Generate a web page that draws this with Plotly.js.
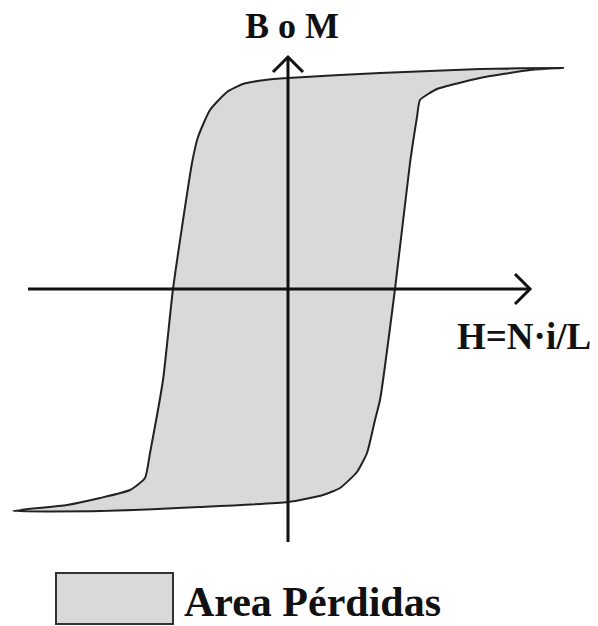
<!DOCTYPE html>
<html>
<head>
<meta charset="utf-8">
<script src="https://cdn.plot.ly/plotly-3.0.1.min.js"></script>
<style>
  html, body { margin: 0; padding: 0; background: #ffffff; }
  #chart { width: 598px; height: 626px; }
</style>
</head>
<body>
<div id="chart"></div>
<script>
// Hysteresis loop: descending branch (from +saturation down to -saturation)
const descH = [2.75, 1.92, 0.92, 0.0, -0.23, -0.45, -0.61, -0.78, -0.90, -0.96, -1.15, -1.25, -1.38, -1.43, -1.58, -1.88, -2.21, -2.75];
const descB = [2.21, 2.20, 2.16, 2.11, 2.09, 2.05, 1.97, 1.79, 1.52, 1.26, 0.0, -0.91, -1.64, -1.89, -2.01, -2.09, -2.16, -2.22];

// Ascending branch (from -saturation back up to +saturation)
const ascH = [-2.75, -1.88, -0.88, 0.0, 0.35, 0.52, 0.69, 0.79, 0.87, 0.92, 1.07, 1.22, 1.29, 1.32, 1.49, 1.59, 1.75, 1.92, 2.42, 2.75];
const ascB = [-2.22, -2.22, -2.18, -2.13, -2.06, -1.99, -1.83, -1.64, -1.31, -1.11, 0.0, 1.26, 1.72, 1.89, 2.00, 2.03, 2.07, 2.11, 2.19, 2.21];

// Axis extents (data units)
const hAxisRange = [-2.60, 2.42];
const bAxisRange = [-2.53, 2.32];

// Labels
const bLabel = 'B o M';
const hLabel = 'H=N·i/L';
const legendLabel = 'Area Pérdidas';

const W = 598, H = 626;
const FILL = '#d9d9d9';
const INK = '#111111';
const SERIF = '"Liberation Serif", "Times New Roman", serif';

// Closed loop: descending branch followed by ascending branch
const loopH = descH.concat(ascH.slice(1));
const loopB = descB.concat(ascB.slice(1));

const loop = {
  type: 'scatter', mode: 'lines',
  x: loopH, y: loopB,
  fill: 'toself', fillcolor: FILL,
  line: { color: '#222222', width: 2, shape: 'spline', smoothing: 0.5 },
  hoverinfo: 'skip', showlegend: false
};

// Axis lines with open chevron arrowheads
const headLen = 0.15, headHalf = 0.15;
const hAxis = {
  type: 'scatter', mode: 'lines',
  x: [hAxisRange[0], hAxisRange[1], null, hAxisRange[1] - headLen, hAxisRange[1], hAxisRange[1] - headLen],
  y: [0, 0, null, headHalf, 0, -headHalf],
  line: { color: INK, width: 3 }, hoverinfo: 'skip', showlegend: false
};
const bAxis = {
  type: 'scatter', mode: 'lines',
  x: [0, 0, null, -headHalf, 0, headHalf],
  y: [bAxisRange[0], bAxisRange[1], null, bAxisRange[1] - headLen, bAxisRange[1], bAxisRange[1] - headLen],
  line: { color: INK, width: 3 }, hoverinfo: 'skip', showlegend: false
};

const layout = {
  width: W, height: H,
  margin: { l: 0, r: 0, t: 0, b: 0 },
  paper_bgcolor: '#ffffff', plot_bgcolor: '#ffffff',
  showlegend: false,
  xaxis: { range: [-2.88, 3.10], visible: false, fixedrange: true },
  yaxis: { range: [-3.37, 2.89], visible: false, fixedrange: true },
  shapes: [
    { type: 'rect', xref: 'paper', yref: 'paper',
      x0: 56 / W, x1: 173 / W, y0: 1 - 624 / H, y1: 1 - 573 / H,
      fillcolor: FILL, line: { color: '#333333', width: 2 } }
  ],
  annotations: [
    { text: '<b>' + bLabel + '</b>', xref: 'paper', yref: 'paper',
      x: 292 / W, y: 1 - 26 / H, xanchor: 'center', yanchor: 'middle',
      showarrow: false, font: { family: SERIF, size: 36, color: INK } },
    { text: '<b>' + hLabel + '</b>', xref: 'paper', yref: 'paper',
      x: 524 / W, y: 1 - 336 / H, xanchor: 'center', yanchor: 'middle',
      showarrow: false, font: { family: SERIF, size: 37, color: INK } },
    { text: '<b>' + legendLabel + '</b>', xref: 'paper', yref: 'paper',
      x: 182 / W, y: 1 - 602 / H, xanchor: 'left', yanchor: 'middle',
      showarrow: false, font: { family: SERIF, size: 42, color: INK } }
  ]
};

Plotly.newPlot('chart', [loop, hAxis, bAxis], layout, { staticPlot: true, displayModeBar: false });
</script>
</body>
</html>
